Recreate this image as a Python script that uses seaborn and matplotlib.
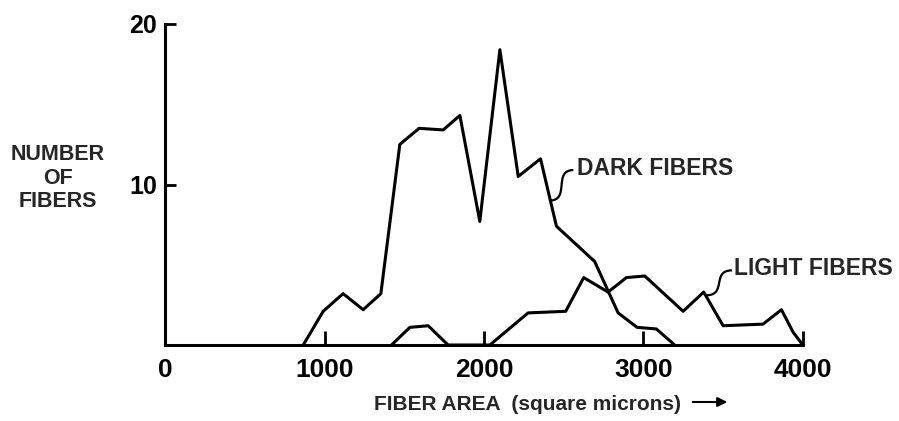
import numpy as np
import pandas as pd
import seaborn as sns
import matplotlib
matplotlib.use("Agg")
import matplotlib.pyplot as plt
from matplotlib.path import Path
from matplotlib.patches import PathPatch

# ==============================================================================
# DADOS
# ==============================================================================

dark_area = [865, 990, 1115, 1241, 1352, 1471, 1592, 1743, 1848, 1973, 2099,
             2214, 2354, 2454, 2694, 2841, 2960, 3081, 3196]
dark_count = [0, 2.1, 3.2, 2.2, 3.2, 12.5, 13.5, 13.4, 14.3, 7.7, 18.4,
              10.5, 11.6, 7.4, 5.2, 2.0, 1.1, 1.0, 0]

light_area = [1419, 1534, 1649, 1774, 2036, 2276, 2512, 2625, 2778, 2893,
              3008, 3249, 3378, 3500, 3750, 3866, 3939, 4000]
light_count = [0, 1.1, 1.2, 0, 0, 2.0, 2.1, 4.2, 3.3, 4.2,
               4.3, 2.1, 3.3, 1.2, 1.3, 2.2, 0.8, 0]

x_ticks = [0, 1000, 2000, 3000, 4000]
y_ticks = [10, 20]

# ==============================================================================
# ESTILO
# ==============================================================================

sns.set_style("ticks")
plt.rcParams['font.family'] = ['Liberation Sans', 'DejaVu Sans']
plt.rcParams['font.weight'] = 'bold'

df = pd.concat([
    pd.DataFrame({"area": dark_area, "count": dark_count, "tipo": "DARK FIBERS"}),
    pd.DataFrame({"area": light_area, "count": light_count, "tipo": "LIGHT FIBERS"}),
])

fig = plt.figure(figsize=(8.99, 4.21), dpi=100)
ax = fig.add_axes([0.184, 0.1805, 0.709, 0.7625])

sns.lineplot(data=df, x="area", y="count", hue="tipo", units="tipo",
             estimator=None, sort=False, palette=["black", "black"],
             linewidth=2.2, legend=False, ax=ax, clip_on=False)

ax.set_xlim(0, 4000)
ax.set_ylim(0, 20)
sns.despine(ax=ax)
for s in ["left", "bottom"]:
    ax.spines[s].set_linewidth(2.2)
    ax.spines[s].set_color("black")

ax.set_xticks(x_ticks)
ax.set_yticks(y_ticks)
ax.tick_params(axis="x", direction="in", length=10, width=2, pad=9,
               labelsize=19, colors="black")
ax.tick_params(axis="y", direction="in", length=8, width=2, pad=6,
               labelsize=18, colors="black")
ax.set_xlabel("")
ax.set_ylabel("")

# rótulos das curvas com conector ondulado
def conector(x0, y0, x1, y1, dx):
    verts = [(x0, y0), (x0 - dx, y0), (x1 + dx, y1), (x1, y1)]
    codes = [Path.MOVETO, Path.CURVE4, Path.CURVE4, Path.CURVE4]
    ax.add_patch(PathPatch(Path(verts, codes), fill=False, lw=1.6,
                           edgecolor="black", clip_on=False))

ax.text(2580, 11.0, "DARK FIBERS", fontsize=16.5, va="center", ha="left")
conector(2560, 10.9, 2412, 9.0, 130)
ax.text(3570, 4.75, "LIGHT FIBERS", fontsize=16.5, va="center", ha="left")
conector(3555, 4.65, 3395, 3.1, 130)

# títulos dos eixos
fig.text(58 / 899, 1 - 178 / 421, "NUMBER\nOF\nFIBERS", ha="center",
         va="center", fontsize=15.5, linespacing=1.15)
fig.text(528 / 899, 1 - 404 / 421, "FIBER AREA  (square microns)",
         ha="center", va="center", fontsize=15)
ax.annotate("", xy=(730 / 899, 1 - 402 / 421), xytext=(690 / 899, 1 - 402 / 421),
            xycoords="figure fraction",
            arrowprops=dict(arrowstyle="-|>", lw=1.5, color="black",
                            mutation_scale=14))

fig.savefig("out.png", dpi=100)
